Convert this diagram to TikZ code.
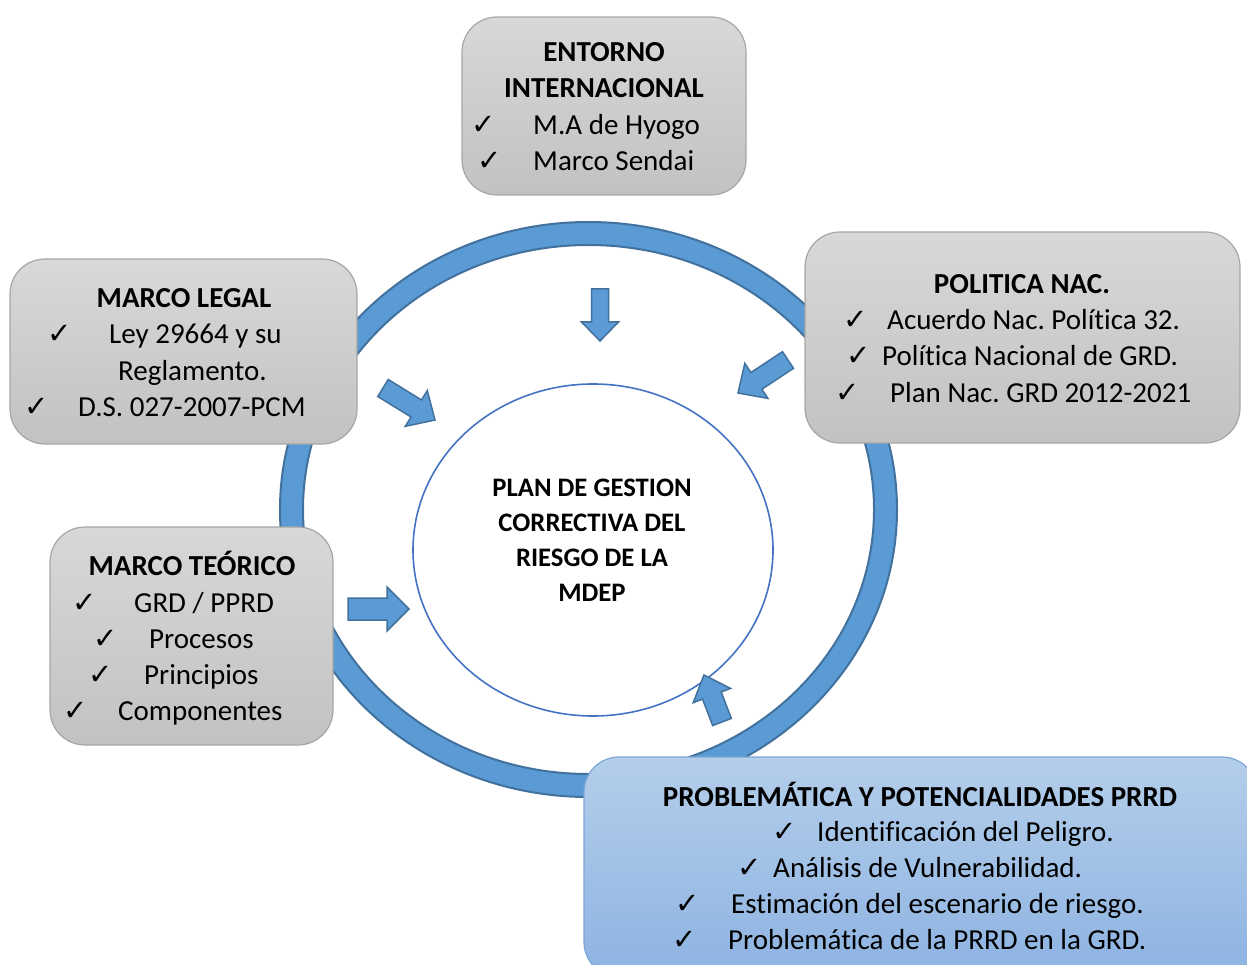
\documentclass[tikz,border=0pt]{standalone}
\usepackage{fontspec}
\setmainfont[Ligatures=NoCommon]{Carlito}
\newfontfamily\chkfont{DejaVu Sans}
\usepackage{tikz}
\usetikzlibrary{calc,shapes.geometric}
\frenchspacing
\definecolor{ringfill}{HTML}{5B9BD5}
\definecolor{ringline}{HTML}{41719C}
\definecolor{planline}{HTML}{4472C4}
\definecolor{greytop}{HTML}{D8D8D8}
\definecolor{greybot}{HTML}{C2C2C2}
\definecolor{greyline}{HTML}{A6A6A6}
\definecolor{bluetop}{HTML}{B4CEEA}
\definecolor{bluebot}{HTML}{8DB3E2}
\definecolor{blueline}{HTML}{7AA6DA}
\tikzset{
  ring/.style={fill=ringfill, draw=ringline, line width=2pt, even odd rule},
  plan/.style={ellipse, draw=planline, line width=1.6pt, fill=white},
  greybox/.style={rectangle, rounded corners=35pt, draw=greyline, line width=1.2pt, top color=greytop, bottom color=greybot},
  bluebox/.style={rectangle, rounded corners=35pt, draw=blueline, line width=1.2pt, top color=bluetop, bottom color=bluebot},
  head/.style={font=\fontsize{29}{36}\selectfont\bfseries, anchor=base, inner sep=0pt},
  item/.style={font=\fontsize{29}{36}\selectfont, anchor=base west, inner sep=0pt},
  chk/.style={font=\chkfont\fontsize{29}{34}\selectfont, anchor=base west, inner sep=0pt},
  plantext/.style={font=\fontsize{26.7}{35}\selectfont\bfseries, align=center, inner sep=0pt},
  blk/.style={fill=ringfill, draw=ringline, line width=1.5pt, line join=miter}
}
% one ticked line: name, tick x, text x, baseline y, text
\newcommand{\chkline}[5]{%
  \node[chk] (#1-c) at (#2,#4) {✓};
  \node[item] (#1) at (#3,#4) {#5};}
% block arrow: name, tail, tip, half shaft, half head, head length
\newcommand{\blkarrow}[6]{%
  \coordinate (#1-n) at ($(#3)!#6!(#2)$);
  \draw[blk] ($(#2)!#4!90:(#3)$) -- ($(#1-n)!#4!90:(#3)$) -- ($(#1-n)!#5!90:(#3)$)
    -- (#3) -- ($(#1-n)!#5!-90:(#3)$) -- ($(#1-n)!#4!-90:(#3)$) -- ($(#2)!#4!-90:(#3)$) -- cycle;}

\begin{document}
\begin{tikzpicture}[x=1pt, y=-1pt]
  \useasboundingbox (0,0) rectangle (1247,965);
  \clip (0,0) rectangle (1247,965);

  % ring and centre
  \draw[ring] (588.5,509.5) ellipse [x radius=308.5, y radius=287.5]
              (588.5,509.5) ellipse [x radius=285.5, y radius=264.5];
  \node[plan, minimum width=360pt, minimum height=332pt] (plan) at (593,550) {};
  \node[plantext] (plan-txt) at (592,540) {PLAN DE GESTION\\CORRECTIVA DEL\\RIESGO DE LA\\MDEP};

  % arrows into the centre
  \coordinate (a-ent-s) at (600,289);  \coordinate (a-ent-e) at (600,341);
  \coordinate (a-leg-s) at (383,388);  \coordinate (a-leg-e) at (435,420);
  \coordinate (a-pol-s) at (788,360);  \coordinate (a-pol-e) at (738,393);
  \coordinate (a-teo-s) at (348,609);  \coordinate (a-teo-e) at (409,609);
  \coordinate (a-prob-s) at (722,722); \coordinate (a-prob-e) at (704,675);
  \blkarrow{a-ent}{a-ent-s}{a-ent-e}{8.5pt}{18.5pt}{19pt}
  \blkarrow{a-leg}{a-leg-s}{a-leg-e}{10pt}{21pt}{22pt}
  \blkarrow{a-pol}{a-pol-s}{a-pol-e}{10pt}{21pt}{22pt}
  \blkarrow{a-teo}{a-teo-s}{a-teo-e}{11pt}{22pt}{22pt}
  \blkarrow{a-prob}{a-prob-s}{a-prob-e}{10pt}{20pt}{22pt}

  % boxes
  \node[greybox, minimum width=284pt, minimum height=178pt] (ent) at (604,106) {};
  \node[greybox, minimum width=347pt, minimum height=185pt] (leg) at (183.5,351.5) {};
  \node[greybox, minimum width=435pt, minimum height=211pt] (pol) at (1022.5,337.5) {};
  \node[greybox, minimum width=283pt, minimum height=218pt] (teo) at (191.5,636) {};
  \node[bluebox, minimum width=673pt, minimum height=220pt] (prob) at (920.5,867) {};

  % texts
  \node[head] (ent-t1) at (604,62) {ENTORNO};
  \node[head] (ent-t2) at (604,98) {INTERNACIONAL};
  \chkline{ent-l1}{471}{533}{135}{M.A de Hyogo}
  \chkline{ent-l2}{477}{533}{171}{Marco Sendai}

  \node[head] (leg-t) at (184,308) {MARCO LEGAL};
  \chkline{leg-l1}{47}{109}{344}{Ley 29664 y su}
  \node[item] (leg-l2) at (118,380) {Reglamento.};
  \chkline{leg-l3}{24}{78}{416}{D.S. 027-2007-PCM}

  \node[head] (pol-t) at (1022,294) {POLITICA NAC.};
  \chkline{pol-l1}{843}{887}{330}{Acuerdo Nac. Política 32.}
  \chkline{pol-l2}{846}{882}{366}{Política Nacional de GRD.}
  \chkline{pol-l3}{835}{890}{402}{Plan Nac. GRD 2012-2021}

  \node[head] (teo-t) at (192,575) {MARCO TEÓRICO};
  \chkline{teo-l1}{72}{134}{612}{GRD / PPRD}
  \chkline{teo-l2}{93}{149}{648}{Procesos}
  \chkline{teo-l3}{88}{144}{684}{Principios}
  \chkline{teo-l4}{63}{118}{720}{Componentes}

  \node[head] (prob-t) at (920,806) {PROBLEMÁTICA Y POTENCIALIDADES PRRD};
  \chkline{prob-l1}{772}{817}{841}{Identificación del Peligro.}
  \chkline{prob-l2}{737}{773}{877}{Análisis de Vulnerabilidad.}
  \chkline{prob-l3}{675}{731}{913}{Estimación del escenario de riesgo.}
  \chkline{prob-l4}{672}{728}{949}{Problemática de la PRRD en la GRD.}
\end{tikzpicture}
\end{document}
